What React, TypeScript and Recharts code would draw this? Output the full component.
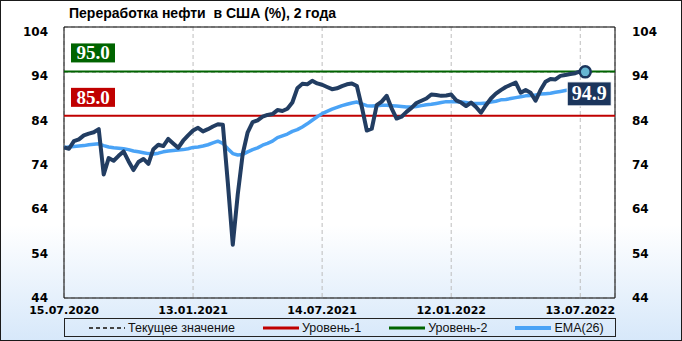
import { LineChart, Line, XAxis, YAxis, CartesianGrid, ReferenceLine, ReferenceDot, ReferenceArea, Legend } from "recharts";

// weekly observations, 15.07.2020 .. 20.07.2022
const refining = [
  77.9, 77.6, 79.3, 79.7, 80.6, 81.0, 81.3, 82.0, 71.8, 75.5,
  74.9, 76.0, 77.0, 74.8, 72.8, 74.6, 75.3, 74.2, 77.5, 78.5,
  78.2, 79.8, 78.8, 77.8, 79.4, 80.6, 81.7, 82.3, 81.5, 82.0,
  82.6, 83.1, 83.0, 70.0, 56.0, 67.3, 76.4, 81.3, 83.6, 84.0,
  84.8, 85.2, 85.4, 86.3, 86.1, 86.6, 88.0, 91.2, 92.2, 92.1,
  92.9, 92.3, 92.0, 91.5, 91.0, 91.2, 91.7, 92.1, 92.3, 91.7,
  87.0, 81.7, 82.1, 87.4, 88.2, 89.5, 86.7, 84.4, 84.8, 85.9,
  86.8, 87.9, 88.4, 88.9, 89.8, 89.7, 89.5, 89.6, 89.8, 88.5,
  88.0, 87.2, 88.0, 87.0, 85.7, 87.4, 88.9, 90.0, 90.8, 91.5,
  92.0, 92.5, 90.2, 90.8, 90.2, 88.4, 90.8, 92.7, 93.3, 93.2,
  94.0, 94.2, 94.4, 94.6, 95.0, 94.9,
];

const ema26 = [
  77.9, 78.0, 78.1, 78.2, 78.3, 78.5, 78.6, 78.7, 78.3, 78.0,
  77.8, 77.7, 77.6, 77.4, 77.1, 76.9, 76.7, 76.5, 76.4, 76.6,
  76.9, 77.1, 77.2, 77.3, 77.4, 77.6, 77.9, 78.0, 78.2, 78.5,
  78.9, 79.3, 78.8, 77.6, 76.5, 76.2, 76.3, 76.9, 77.4, 77.8,
  78.4, 78.8, 79.3, 80.1, 80.5, 80.9, 81.5, 81.9, 82.5, 83.2,
  84.0, 84.8, 85.5, 86.0, 86.5, 86.9, 87.3, 87.6, 87.9, 88.1,
  87.7, 87.3, 87.2, 87.3, 87.4, 87.4, 87.3, 87.2, 87.1, 87.0,
  87.0, 87.1, 87.3, 87.5, 87.6, 87.8, 88.0, 88.2, 88.2, 88.2,
  88.1, 88.0, 87.8, 87.8, 87.8, 87.9, 88.1, 88.3, 88.6, 88.7,
  88.9, 89.1, 89.3, 89.5, 89.6, 89.7, 89.9, 90.0, 90.1, 90.3,
  90.5, 90.7, 90.9, 91.0, 91.2, 91.3,
];

const xTicks = [0, 26, 52, 78, 104];
const xTickLabels = ["15.07.2020", "13.01.2021", "14.07.2021", "12.01.2022", "13.07.2022"];
const yTicks = [44, 54, 64, 74, 84, 94, 104];

const level1 = 85.0;
const level2 = 95.0;

const data = refining.map((v, i) => ({ i, value: v, ema: ema26[i] }));
const last = data[data.length - 1];

const NAVY = "#223d62";
const EMA_BLUE = "#4aa3f6";
const RED = "#c00000";
const GREEN = "#006400";

const tickFont = { fontFamily: "DejaVu Sans", fontWeight: 700, fontSize: 12, fill: "#000" };

const LevelTag = ({ viewBox, text, color }: any) => {
  const x = viewBox.x + 7;
  const y = viewBox.y - 28;
  return (
    <g>
      <rect x={x} y={y} width={44} height={19} fill={color} />
      <text x={x + 22} y={y + 16} textAnchor="middle" fill="#fff"
        style={{ fontFamily: "Liberation Serif", fontWeight: 700, fontSize: 19 }}>{text}</text>
    </g>
  );
};

const LastTag = ({ viewBox }: any) => {
  const cx = viewBox.x + viewBox.width / 2;
  const cy = viewBox.y + viewBox.height / 2;
  const x = cx - 18;
  const y = cy + 10;
  return (
    <g>
      <rect x={x} y={y} width={44} height={24} fill="#1b355c" stroke="#fff" strokeWidth={1} />
      <text x={x + 22} y={y + 18} textAnchor="middle" fill="#fff"
        style={{ fontFamily: "Liberation Serif", fontWeight: 700, fontSize: 20 }}>{last.value.toFixed(1)}</text>
    </g>
  );
};

const legendItems = [
  { name: "Текущее значение", color: "#444", dash: true, w: 2 },
  { name: "Уровень-1", color: RED, dash: false, w: 3 },
  { name: "Уровень-2", color: GREEN, dash: false, w: 3 },
  { name: "EMA(26)", color: EMA_BLUE, dash: false, w: 4 },
];

const LegendBox = () => (
  <div style={{
    boxSizing: "border-box", width: 552, height: 19, border: "1px solid #222",
    display: "flex", alignItems: "center", gap: 28, paddingLeft: 24,
    fontFamily: "Liberation Sans", fontSize: 12.5, color: "#111",
  }}>
    {legendItems.map((it) => (
      <div key={it.name} style={{ display: "flex", alignItems: "center" }}>
        <svg width={36} height={8} style={{ marginRight: 3 }}>
          <line x1={0} y1={4} x2={36} y2={4} stroke={it.color} strokeWidth={it.w}
            strokeDasharray={it.dash ? "4 3" : undefined} />
        </svg>
        <span>{it.name}</span>
      </div>
    ))}
  </div>
);

export default function App() {
  return (
    <div style={{
      position: "absolute", left: 0, top: 0, width: 682, height: 341, boxSizing: "border-box",
      border: "1px solid #1a1a1a",
      background: "linear-gradient(to bottom, #ffffff 0%, #ffffff 66%, #d7e8fa 100%)",
    }}>
      <div style={{
        position: "absolute", left: 68, top: 4, whiteSpace: "pre",
        fontFamily: "Liberation Sans", fontWeight: 700, fontSize: 14, color: "#000",
      }}>Переработка нефти  в США (%), 2 года</div>
      <div style={{ position: "absolute", left: -1, top: -1 }}>
        <LineChart width={682} height={341} data={data} margin={{ top: 27, right: 0, left: 0, bottom: 4 }}>
          <CartesianGrid stroke="#bdbdbd" strokeDasharray="4 3" />
          <XAxis dataKey="i" type="number" domain={[0, 111]} ticks={xTicks} allowDataOverflow
            tickFormatter={(v: number) => xTickLabels[xTicks.indexOf(v)] ?? ""}
            tick={{ ...tickFont, fontSize: 11 }} tickLine={false} axisLine={false} height={20} tickMargin={2} />
          <YAxis yAxisId="l" domain={[44, 105]} ticks={yTicks} allowDataOverflow width={64}
            tick={{ ...tickFont }} tickLine={false} axisLine={false} tickMargin={10} />
          <YAxis yAxisId="r" orientation="right" domain={[44, 105]} ticks={yTicks} allowDataOverflow width={67}
            tick={{ ...tickFont }} tickLine={false} axisLine={false} tickMargin={11} />
          <ReferenceArea yAxisId="l" x1={0} x2={111} y1={44} y2={105} fill="none" stroke="#000" strokeWidth={1} ifOverflow="visible" />
          <ReferenceLine yAxisId="l" y={last.value} stroke="#444" strokeDasharray="4 3" />
          <ReferenceLine yAxisId="l" y={level2} stroke={GREEN} strokeWidth={2}
            label={(p: any) => <LevelTag {...p} text={level2.toFixed(1)} color={GREEN} />} />
          <ReferenceLine yAxisId="l" y={level1} stroke={RED} strokeWidth={2}
            label={(p: any) => <LevelTag {...p} text={level1.toFixed(1)} color={RED} />} />
          <Line yAxisId="l" type="linear" dataKey="ema" stroke={EMA_BLUE} strokeWidth={3.5} dot={false}
            isAnimationActive={false} strokeLinejoin="round" />
          <Line yAxisId="l" type="linear" dataKey="value" stroke={NAVY} strokeWidth={4} dot={false}
            isAnimationActive={false} strokeLinejoin="round" />
          <ReferenceDot yAxisId="l" x={last.i} y={last.value} r={5.5} fill="#66b6d2" stroke="#1b355c" strokeWidth={2.5}
            label={(p: any) => <LastTag {...p} />} />
          <Legend verticalAlign="bottom" content={() => <LegendBox />}
            wrapperStyle={{ left: 64, width: 552, height: 19, bottom: 4 }} />
        </LineChart>
      </div>
    </div>
  );
}
